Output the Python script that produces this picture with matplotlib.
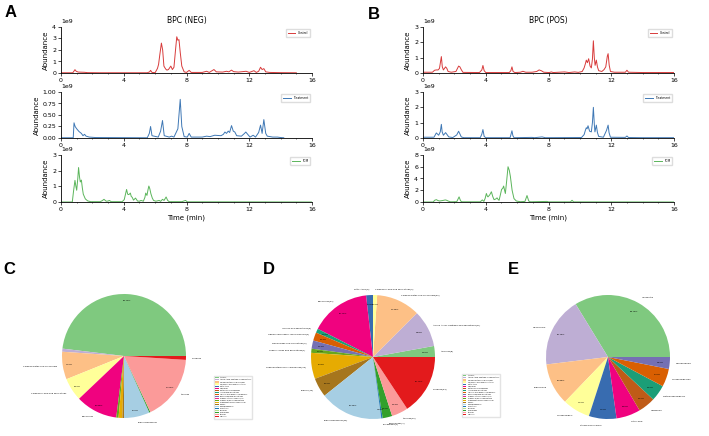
import matplotlib.pyplot as plt

plt.rcParams['font.family'] = ['DejaVu Sans']

W, H = 709, 436

# chromatogram traces: (time in min, abundance in 1e9)
neg_control = [(0.0, 0.02), (0.75, 0.02), (0.82, 0.15), (0.89, 0.29), (0.97, 0.15), (1.1, 0.08), (1.5, 0.06),
               (1.7, 0.03), (2.5, 0.02), (5.5, 0.02), (5.65, 0.1), (5.71, 0.23), (5.8, 0.05), (6.0, 0.03),
               (6.15, 0.4), (6.22, 0.75), (6.3, 1.6), (6.4, 2.6), (6.48, 2.0), (6.56, 0.6), (6.67, 0.35),
               (6.75, 0.25), (6.85, 0.3), (7.0, 0.6), (7.1, 0.3), (7.2, 0.5), (7.3, 2.0), (7.38, 3.15),
               (7.45, 2.85), (7.52, 2.9), (7.6, 1.8), (7.7, 0.6), (7.85, 0.1), (8.0, 0.05), (8.17, 0.23),
               (8.3, 0.05), (9.0, 0.05), (9.28, 0.15), (9.45, 0.05), (9.75, 0.3), (9.9, 0.1), (10.3, 0.08),
               (10.55, 0.15), (10.7, 0.1), (10.87, 0.25), (11.0, 0.12), (11.3, 0.08), (11.8, 0.15), (12.0, 0.05),
               (12.3, 0.2), (12.45, 0.05), (12.6, 0.15), (12.72, 0.5), (12.82, 0.3), (12.93, 0.38), (13.05, 0.1),
               (13.3, 0.05), (14.0, 0.03), (15.0, 0.02)]
neg_treat = [(0.0, 0.005), (0.78, 0.005), (0.83, 0.33), (0.9, 0.25), (1.0, 0.2), (1.15, 0.14), (1.3, 0.1),
             (1.4, 0.05), (1.5, 0.08), (1.6, 0.04), (1.8, 0.02), (2.2, 0.01), (5.5, 0.005), (5.63, 0.1),
             (5.71, 0.25), (5.8, 0.05), (6.2, 0.02), (6.35, 0.15), (6.47, 0.38), (6.58, 0.05), (6.9, 0.02),
             (7.05, 0.04), (7.2, 0.02), (7.45, 0.2), (7.6, 0.84), (7.7, 0.25), (7.85, 0.03), (8.05, 0.02),
             (8.17, 0.1), (8.3, 0.02), (9.0, 0.02), (9.28, 0.04), (9.5, 0.03), (9.8, 0.06), (10.2, 0.05),
             (10.35, 0.08), (10.45, 0.13), (10.55, 0.1), (10.66, 0.15), (10.75, 0.12), (10.87, 0.27),
             (10.98, 0.15), (11.08, 0.13), (11.2, 0.05), (11.5, 0.04), (11.7, 0.1), (11.78, 0.13), (11.9, 0.08),
             (12.05, 0.02), (12.25, 0.06), (12.4, 0.02), (12.6, 0.12), (12.72, 0.28), (12.82, 0.1), (12.93, 0.4),
             (13.05, 0.1), (13.15, 0.04), (13.5, 0.02), (13.8, 0.02), (14.0, 0.01), (14.2, 0.005)]
neg_tcm = [(0.0, 0.0), (0.72, 0.0), (0.8, 0.7), (0.89, 1.38), (0.95, 1.0), (1.0, 0.75), (1.07, 1.5), (1.12, 2.2),
           (1.18, 1.6), (1.23, 1.28), (1.3, 1.4), (1.36, 0.9), (1.42, 0.5), (1.55, 0.2), (1.7, 0.07), (1.9, 0.02),
           (2.5, 0.02), (2.62, 0.08), (2.74, 0.17), (2.88, 0.05), (3.0, 0.06), (3.08, 0.1), (3.2, 0.02),
           (3.9, 0.02), (4.03, 0.15), (4.1, 0.45), (4.18, 0.8), (4.25, 0.5), (4.3, 0.47), (4.36, 0.5),
           (4.42, 0.57), (4.48, 0.35), (4.54, 0.3), (4.62, 0.12), (4.75, 0.25), (4.88, 0.06), (5.0, 0.05),
           (5.1, 0.1), (5.25, 0.05), (5.35, 0.3), (5.4, 0.57), (5.48, 0.42), (5.55, 0.8), (5.6, 1.02),
           (5.66, 0.85), (5.73, 0.53), (5.82, 0.25), (5.9, 0.1), (6.05, 0.05), (6.26, 0.1), (6.35, 0.04),
           (6.47, 0.17), (6.57, 0.1), (6.7, 0.32), (6.8, 0.1), (6.9, 0.02), (7.7, 0.02), (7.94, 0.1),
           (8.05, 0.01), (9.0, 0.01), (16.0, 0.0)]
pos_control = [(0.0, 0.05), (0.6, 0.05), (0.74, 0.18), (0.85, 0.2), (0.96, 0.2), (1.05, 0.3), (1.17, 1.07),
               (1.23, 0.4), (1.3, 0.2), (1.44, 0.4), (1.52, 0.3), (1.6, 0.1), (1.8, 0.05), (2.1, 0.1),
               (2.27, 0.45), (2.35, 0.4), (2.45, 0.2), (2.55, 0.04), (3.6, 0.03), (3.75, 0.2), (3.82, 0.49),
               (3.9, 0.15), (4.0, 0.03), (5.5, 0.03), (5.6, 0.15), (5.67, 0.4), (5.74, 0.1), (5.85, 0.03),
               (6.2, 0.05), (6.37, 0.11), (6.55, 0.05), (6.95, 0.05), (7.25, 0.1), (7.4, 0.2), (7.54, 0.15),
               (7.7, 0.05), (8.05, 0.03), (8.18, 0.07), (8.3, 0.03), (9.03, 0.07), (9.3, 0.03), (9.67, 0.07),
               (9.9, 0.04), (10.15, 0.1), (10.27, 0.33), (10.35, 0.6), (10.41, 0.84), (10.48, 0.67),
               (10.56, 0.93), (10.65, 0.45), (10.73, 0.33), (10.8, 0.9), (10.86, 2.1), (10.92, 1.0),
               (10.97, 0.5), (11.05, 0.84), (11.12, 0.4), (11.2, 0.15), (11.4, 0.1), (11.54, 0.22), (11.65, 0.4),
               (11.75, 1.1), (11.8, 1.26), (11.87, 0.5), (11.95, 0.1), (12.2, 0.05), (12.9, 0.05), (13.0, 0.18),
               (13.1, 0.05), (14.0, 0.03), (16.0, 0.03)]
pos_treat = [(0.0, 0.05), (0.7, 0.05), (0.85, 0.33), (1.0, 0.18), (1.1, 0.4), (1.17, 0.89), (1.22, 0.4),
             (1.3, 0.18), (1.44, 0.35), (1.55, 0.2), (1.64, 0.07), (1.9, 0.03), (2.15, 0.2), (2.27, 0.44),
             (2.36, 0.25), (2.44, 0.07), (2.6, 0.02), (3.65, 0.02), (3.75, 0.25), (3.82, 0.55), (3.9, 0.1),
             (4.0, 0.02), (5.55, 0.02), (5.6, 0.2), (5.67, 0.47), (5.73, 0.15), (5.8, 0.02), (6.95, 0.04),
             (7.1, 0.02), (7.59, 0.07), (7.8, 0.02), (10.1, 0.03), (10.27, 0.22), (10.35, 0.5), (10.41, 0.67),
             (10.46, 0.6), (10.52, 0.8), (10.62, 0.44), (10.73, 0.4), (10.8, 1.0), (10.86, 2.0), (10.92, 0.9),
             (10.96, 0.4), (11.05, 0.84), (11.12, 0.35), (11.2, 0.1), (11.5, 0.05), (11.7, 0.5), (11.8, 0.84),
             (11.86, 0.35), (11.95, 0.05), (12.9, 0.04), (13.0, 0.13), (13.1, 0.03), (14.0, 0.02), (16.0, 0.02)]
pos_tcm = [(0.0, 0.0), (0.65, 0.0), (0.74, 0.29), (0.85, 0.4), (0.95, 0.25), (1.06, 0.17), (1.25, 0.25),
           (1.42, 0.35), (1.5, 0.3), (1.6, 0.17), (1.75, 0.03), (2.15, 0.05), (2.3, 0.87), (2.4, 0.17),
           (2.5, 0.03), (3.65, 0.03), (3.78, 0.35), (3.88, 0.1), (3.96, 0.6), (4.04, 1.45), (4.1, 1.0),
           (4.14, 0.87), (4.25, 1.2), (4.36, 1.74), (4.45, 0.9), (4.53, 0.4), (4.63, 0.5), (4.72, 0.7),
           (4.8, 0.4), (4.85, 0.29), (4.93, 1.2), (5.01, 2.15), (5.08, 2.3), (5.14, 2.72), (5.2, 2.0),
           (5.25, 1.45), (5.33, 3.5), (5.42, 6.0), (5.5, 5.4), (5.57, 4.35), (5.68, 2.0), (5.8, 0.58),
           (5.95, 0.17), (6.2, 0.05), (6.5, 0.1), (6.63, 1.1), (6.74, 0.17), (6.85, 0.03), (7.9, 0.1),
           (8.0, 0.02), (9.4, 0.02), (9.5, 0.29), (9.6, 0.02), (16.0, 0.0)]

group_names = ['Control', 'Treatment', 'TCM']
group_colors = ['#d83b3b', '#3f78b5', '#5bb55b']
neg_ylims = [4, 1.0, 3]
neg_yticks = [[0, 1, 2, 3, 4], [0, 0.25, 0.5, 0.75, 1.0], [0, 1, 2, 3]]
pos_ylims = [3, 3, 8]
pos_yticks = [[0, 1, 2, 3], [0, 1, 2, 3], [0, 2, 4, 6, 8]]

# compound classes (shared by C and D legends)
classes = ['Alkaloids', 'Amino Acids, Peptides and derivatives', 'Carbohydrates and Glycosides',
           'Carboxylic acid and derivatives', 'Fatty Acyls', 'Flavonoids', 'Heterocyclic compounds',
           'Indoles and derivatives', 'Lignans and lignan-like molecules', 'Nucleosides and derivatives',
           'Organic nitrogen compounds', 'Organic acids and derivatives', 'Organoheterocyclic compounds',
           'Phenols', 'Phenylpropanoids', 'Polyketides', 'Quinones', 'Saccharides', 'Steroids', 'Terpenes']
class_colors = ['#7fc97f', '#beaed4', '#fdc086', '#ffff99', '#386cb0', '#f0027f', '#bf5b17',
                '#1b9e77', '#d95f02', '#7570b3', '#e7298a', '#66a61e', '#e6ab02', '#a6761d',
                '#a6cee3', '#1f78b4', '#b2df8a', '#33a02c', '#fb9a99', '#e31a1c']
c_percent = [48.1, 0.8, 7.2, 6.0, 0, 10.9, 0, 0, 0, 0, 0, 0.6, 1.0, 0.4, 6.7, 0, 0, 0.3, 17.0, 1.0]
c_outer = ['Carbohydrates and Glycosides', 'Carboxylic acid and derivatives', 'Flavonoids',
           'Phenylpropanoids', 'Steroids', 'Terpenes']
d_counts = [8, 27, 32, 3, 5, 44, 0, 3, 6, 6, 0, 3, 19, 14, 46, 1, 0, 7, 12, 44]

e_compounds = ['Isoliquiritin', 'Glycyrrhizin', 'Sophoridine', 'Ginsenoside F', 'Tetrahydrocurcumin',
               'Citric acid', 'Hesperidin', 'Notoginsenoside R1', 'Ginsenoside Rb1', 'Neohesperidin']
e_percent = [33.75, 18.2, 10.9, 7.2, 7.2, 6.3, 4.5, 4.2, 4.7, 3.1]
e_colors = ['#7fc97f', '#beaed4', '#fdc086', '#ffff99', '#386cb0', '#f0027f', '#bf5b17',
            '#1b9e77', '#d95f02', '#7570b3']


def box(x, y, w, h):
    return [x / W, 1 - (y + h) / H, w / W, h / H]


fig = plt.figure(figsize=(W / 100, H / 100), dpi=100)

rows = [(27, 46), (92, 46), (155, 47)]
panels = [(61, 'BPC (NEG)', [neg_control, neg_treat, neg_tcm], neg_ylims, neg_yticks),
          (423, 'BPC (POS)', [pos_control, pos_treat, pos_tcm], pos_ylims, pos_yticks)]

for left, title, traces, ylims, yticks in panels:
    for i, (top, h) in enumerate(rows):
        ax = fig.add_axes(box(left, top, 251, h))
        t = [p[0] for p in traces[i]]
        v = [p[1] * 1e9 for p in traces[i]]
        ax.plot(t, v, color=group_colors[i], lw=0.7, label=group_names[i])
        ax.set_xlim(0, 16)
        ax.set_ylim(0, ylims[i] * 1e9)
        ax.set_xticks([0, 4, 8, 12, 16])
        ax.set_xticks(range(17), minor=True)
        ax.set_yticks([y * 1e9 for y in yticks[i]])
        ax.tick_params(labelsize=4.5, length=2, width=0.5, pad=1.5)
        ax.tick_params(which='minor', length=1, width=0.4)
        ax.yaxis.get_offset_text().set_fontsize(4.5)
        for s in ['top', 'right']:
            ax.spines[s].set_visible(False)
        for s in ['left', 'bottom']:
            ax.spines[s].set_linewidth(0.6)
        ax.set_ylabel('Abundance', fontsize=5, labelpad=2)
        ax.legend(loc='upper right', fontsize=2.2, handlelength=2.5, borderpad=0.7,
                  frameon=True, framealpha=1, edgecolor='#dddddd')
        if i == 0:
            ax.set_title(title, fontsize=5.5, pad=3)
        if i == 2:
            ax.set_xlabel('Time (min)', fontsize=5, labelpad=2)

txt = dict(fontsize=1.6)

# C: class composition (percent)
axc = fig.add_axes(box(124 - 62, 356 - 62, 124, 124))
c_labels = [n if n in c_outer and v > 0 else '' for n, v in zip(classes, c_percent)]
wc, _, _ = axc.pie(c_percent, labels=c_labels, colors=class_colors, startangle=0,
                   autopct=lambda p: '%.2f%%' % p if p >= 2 else '', pctdistance=0.9,
                   labeldistance=1.1, textprops=txt)
axc.set_xlim(-1, 1)
axc.set_ylim(-1, 1)
axc.legend(wc, classes, loc='upper left', bbox_to_anchor=(213 / W, 1 - 375 / H),
           bbox_transform=fig.transFigure, fontsize=1.2, frameon=True, edgecolor='#dddddd',
           handlelength=2, borderpad=0.8)

# D: class counts
axd = fig.add_axes(box(373 - 62, 357 - 62, 124, 124))
d_labels = ['%s(%d)' % (n, c) if c > 0 else '' for n, c in zip(classes, d_counts)]
wd, _, _ = axd.pie(d_counts, labels=d_labels, colors=class_colors, startangle=0,
                   autopct=lambda p: '%.2f%%' % p if p > 0 else '', pctdistance=0.85,
                   labeldistance=1.1, textprops=txt)
axd.set_xlim(-1, 1)
axd.set_ylim(-1, 1)
axd.legend(wd, classes, loc='upper left', bbox_to_anchor=(461 / W, 1 - 373 / H),
           bbox_transform=fig.transFigure, fontsize=1.2, frameon=True, edgecolor='#dddddd',
           handlelength=2, borderpad=0.8)

# E: main compounds
axe = fig.add_axes(box(608 - 62, 357 - 62, 124, 124))
axe.pie(e_percent, labels=e_compounds, colors=e_colors, startangle=0,
        autopct='%.2f%%', pctdistance=0.85, labeldistance=1.1, textprops=txt)
axe.set_xlim(-1, 1)
axe.set_ylim(-1, 1)

letters = [('A', 5, 5), ('B', 368, 7), ('C', 3, 262), ('D', 263, 262), ('E', 508, 262)]
for s, x, y in letters:
    fig.text(x / W, 1 - y / H, s, fontsize=12, fontweight='bold', va='top', ha='left',
             family=['Liberation Sans', 'DejaVu Sans'])

fig.savefig('out.png', dpi=100)
